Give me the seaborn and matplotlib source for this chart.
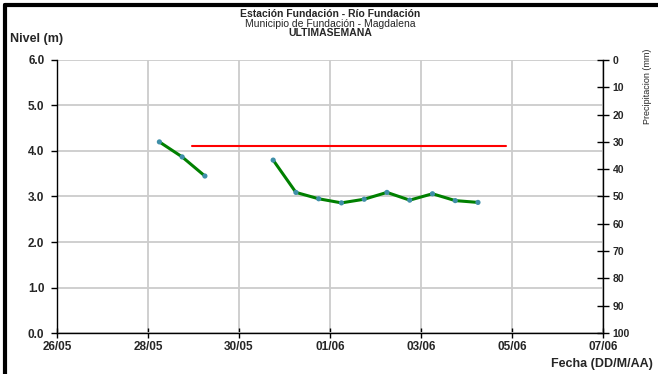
import pandas as pd
import matplotlib.pyplot as plt
import matplotlib.dates as mdates
import seaborn as sns

# Nivel (m) readings, every 12 hours, two separate stretches
nivel_fechas = ['2023-05-28 06:00', '2023-05-28 18:00', '2023-05-29 06:00',
                '2023-05-30 18:00', '2023-05-31 06:00', '2023-05-31 18:00',
                '2023-06-01 06:00', '2023-06-01 18:00', '2023-06-02 06:00',
                '2023-06-02 18:00', '2023-06-03 06:00', '2023-06-03 18:00',
                '2023-06-04 06:00']
nivel_valores = [4.20, 3.87, 3.45,
                 3.80, 3.09, 2.95, 2.86, 2.94, 3.09, 2.92, 3.06, 2.91, 2.87]
nivel_tramo = [0, 0, 0, 1, 1, 1, 1, 1, 1, 1, 1, 1, 1]

# alert level (red line)
alerta_fechas = ['2023-05-28 23:00', '2023-06-04 21:00']
alerta_valor = [4.1, 4.1]

x_ticks = ['2023-05-26', '2023-05-28', '2023-05-30', '2023-06-01',
           '2023-06-03', '2023-06-05', '2023-06-07']
y_ticks = [0.0, 1.0, 2.0, 3.0, 4.0, 5.0, 6.0]
precip_ticks = [0, 10, 20, 30, 40, 50, 60, 70, 80, 90, 100]

nivel = pd.DataFrame({'fecha': pd.to_datetime(nivel_fechas),
                      'nivel': nivel_valores, 'tramo': nivel_tramo})
alerta = pd.DataFrame({'fecha': pd.to_datetime(alerta_fechas), 'nivel': alerta_valor})

sns.set_style('white')
plt.rcParams['font.family'] = ['Liberation Sans', 'DejaVu Sans']

fig = plt.figure(figsize=(6.58, 3.74), dpi=100)
ax = fig.add_axes([0.0866, 0.1096, 0.83, 0.73])

# light grey grid
ax.grid(True, color='#cccccc', linewidth=1.3)
ax.set_axisbelow(True)

sns.lineplot(data=alerta, x='fecha', y='nivel', color='red', linewidth=1.5, ax=ax)
sns.lineplot(data=nivel, x='fecha', y='nivel', units='tramo', estimator=None,
             color='green', linewidth=2.2, ax=ax)
sns.scatterplot(data=nivel, x='fecha', y='nivel', color='#3f8fa8', s=14,
                edgecolor='none', zorder=5, ax=ax)

xt = pd.to_datetime(x_ticks)
ax.set_xlim(xt[0], xt[-1])
ax.set_xticks(xt)
ax.xaxis.set_major_formatter(mdates.DateFormatter('%d/%m'))
ax.set_ylim(0, 6)
ax.set_yticks(y_ticks)
ax.set_yticklabels([f'{v:.1f}' for v in y_ticks])
ax.set_xlabel('')
ax.set_ylabel('')

for s in ['top', 'right']:
    ax.spines[s].set_visible(False)
for s in ['left', 'bottom']:
    ax.spines[s].set_color('black')
    ax.spines[s].set_linewidth(1.0)

ax.tick_params(axis='x', direction='inout', length=7, width=1, color='black',
               labelsize=8.5, pad=2, bottom=True)
ax.tick_params(axis='y', direction='out', length=4, width=1, color='black',
               labelsize=8.5, pad=5, left=True)
for lab in ax.get_xticklabels() + ax.get_yticklabels():
    lab.set_fontweight('bold')

# precipitation axis (empty, inverted)
ax2 = ax.twinx()
ax2.set_ylim(100, 0)
ax2.set_yticks(precip_ticks)
for s in ['top', 'left', 'bottom']:
    ax2.spines[s].set_visible(False)
ax2.spines['right'].set_color('black')
ax2.spines['right'].set_linewidth(1.0)
ax2.tick_params(axis='y', direction='inout', length=8, width=1, color='black',
                labelsize=7.5, pad=3, right=True)
for lab in ax2.get_yticklabels():
    lab.set_fontweight('bold')
ax2.grid(False)
fig.text(0.984, 0.77, 'Precipitacion (mm)', rotation=90, ha='center', va='center',
         fontsize=6.5)

# titles
fig.text(0.502, 0.963, 'Estación Fundación - Río Fundación', ha='center', va='center',
         fontsize=7.5, fontweight='bold')
fig.text(0.502, 0.936, 'Municipio de Fundación - Magdalena', ha='center', va='center',
         fontsize=7.5)
fig.text(0.502, 0.911, 'ULTIMASEMANA', ha='center', va='center',
         fontsize=7.5, fontweight='bold')
fig.text(0.015, 0.895, 'Nivel (m)', ha='left', va='center', fontsize=9, fontweight='bold')
fig.text(0.992, 0.027, 'Fecha (DD/M/AA)', ha='right', va='center', fontsize=9,
         fontweight='bold')

# black frame on top and left edges
fig.add_artist(plt.Line2D([0.0076, 1.0], [0.986, 0.986], transform=fig.transFigure,
                          color='black', linewidth=3.0))
fig.add_artist(plt.Line2D([0.0076, 0.0076], [0.0, 0.986], transform=fig.transFigure,
                          color='black', linewidth=3.0))

fig.savefig('out.png', dpi=100)
